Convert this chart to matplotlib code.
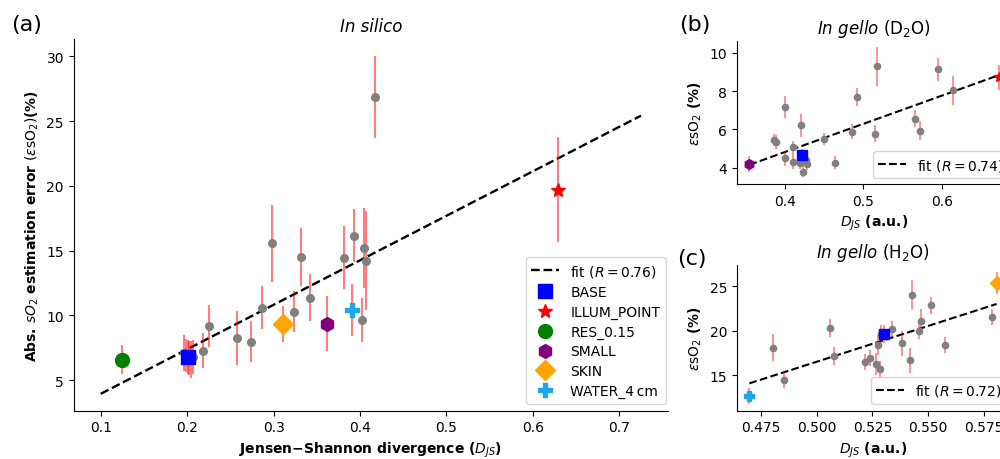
import matplotlib
matplotlib.use("Agg")
import matplotlib.pyplot as plt

# ---------------- (a) In silico ----------------
sil_x = [0.196, 0.199, 0.202, 0.205, 0.207, 0.2183, 0.2249, 0.2572, 0.2734, 0.2861,
         0.2985, 0.3239, 0.3312, 0.3416, 0.3813, 0.3929, 0.4028, 0.4040, 0.4071, 0.4175]
sil_y = [7.1, 6.9, 6.7, 6.6, 6.8, 7.28, 9.17, 8.26, 7.98, 10.6,
         15.57, 10.29, 14.51, 11.37, 14.44, 16.16, 9.68, 15.21, 14.23, 26.88]
sil_err = [1.4, 1.3, 1.3, 1.4, 1.3, 1.35, 1.63, 2.06, 1.57, 1.65,
           2.97, 1.6, 2.27, 1.8, 2.43, 2.03, 1.7, 3.1, 3.8, 3.15]

sil_sp_names = ["BASE", "ILLUM_POINT", "RES_0.15", "SMALL", "SKIN", "WATER_4\u2009cm"]
sil_sp_x = [0.2009, 0.629, 0.1243, 0.3621, 0.3108, 0.3906]
sil_sp_y = [6.77, 19.71, 6.59, 9.37, 9.34, 10.42]
sil_sp_err = [1.3, 4.05, 1.12, 2.1, 1.4, 2.0]

sil_fit_x = [0.1, 0.725]
sil_fit_y = [3.95, 25.42]
sil_R = 0.76

# ---------------- (b) In gello, D2O ----------------
d2o_x = [0.3865, 0.389, 0.4005, 0.4005, 0.4107, 0.4102, 0.4205, 0.419, 0.423, 0.4264,
         0.4286, 0.4498, 0.4639, 0.486, 0.4925, 0.515, 0.5175, 0.5653, 0.5716, 0.595, 0.6138]
d2o_y = [5.44, 5.35, 7.18, 4.48, 5.07, 4.31, 6.22, 4.26, 3.79, 4.40,
         4.19, 5.49, 4.26, 5.88, 7.70, 5.77, 9.29, 6.57, 5.93, 9.15, 8.04]
d2o_err = [0.3, 0.35, 0.57, 0.4, 0.35, 0.4, 0.6, 0.35, 0.3, 0.35,
           0.3, 0.3, 0.35, 0.4, 0.45, 0.45, 1.0, 0.45, 0.5, 0.6, 0.75]

d2o_sp_names = ["SMALL", "BASE", "ILLUM_POINT"]
d2o_sp_x = [0.355, 0.4213, 0.672]
d2o_sp_y = [4.19, 4.66, 8.72]
d2o_sp_err = [0.4, 0.3, 0.65]

d2o_fit_x = [0.355, 0.672]
d2o_fit_y = [4.15, 8.83]
d2o_R = 0.74

# ---------------- (c) In gello, H2O ----------------
h2o_x = [0.4807, 0.4852, 0.5062, 0.508, 0.5219, 0.5241, 0.5267, 0.5283, 0.5274, 0.529,
         0.5336, 0.5384, 0.5418, 0.5429, 0.5457, 0.5466, 0.5513, 0.5576, 0.5785]
h2o_y = [18.07, 14.42, 20.27, 17.17, 16.42, 16.94, 16.23, 15.74, 18.38, 19.63,
         20.16, 18.6, 16.68, 24.04, 20.0, 21.1, 22.83, 18.38, 21.58]
h2o_err = [1.5, 0.9, 1.0, 1.0, 0.9, 0.9, 1.2, 0.9, 1.1, 1.0,
           0.9, 1.4, 1.4, 1.6, 0.9, 1.3, 1.0, 0.9, 0.9]

h2o_sp_names = ["WATER_4\u2009cm", "BASE", "SKIN"]
h2o_sp_x = [0.4699, 0.5301, 0.5807]
h2o_sp_y = [12.64, 19.63, 25.4]
h2o_sp_err = [0.9, 1.0, 1.25]

h2o_fit_x = [0.4699, 0.5807]
h2o_fit_y = [14.07, 23.0]
h2o_R = 0.72

# marker style for each named configuration
STYLE = {
    "BASE": dict(marker="s", color="blue"),
    "ILLUM_POINT": dict(marker="*", color="red"),
    "RES_0.15": dict(marker="o", color="green"),
    "SMALL": dict(marker="h", color="purple"),
    "SKIN": dict(marker="D", color="orange"),
    "WATER_4\u2009cm": dict(marker="P", color="#1aa7ec"),
}

plt.rcParams["font.family"] = ["DejaVu Sans"]
plt.rcParams["font.size"] = 10


def draw_panel(ax, gx, gy, gerr, names, sx, sy, serr, fx, fy, r,
               gray_ms, sp_ms, elw, fit_lw):
    ax.plot(fx, fy, ls="--", color="black", lw=fit_lw, label=f"fit ($R = {r:.2f}$)")
    ax.errorbar(gx, gy, yerr=gerr, fmt="o", color="gray", ms=gray_ms,
                ecolor=(1, 0, 0, 0.5), elinewidth=elw, capsize=0)
    for name, x, y, e in zip(names, sx, sy, serr):
        ax.errorbar([x], [y], yerr=[e], fmt="none", ecolor=(1, 0, 0, 0.5),
                    elinewidth=elw, capsize=0)
        st = STYLE[name]
        ax.plot([x], [y], ls="none", marker=st["marker"], color=st["color"],
                ms=sp_ms, label=name, zorder=3)
    for s in ("top", "right"):
        ax.spines[s].set_visible(False)
    ax.tick_params(labelsize=10)


fig = plt.figure(figsize=(10, 4.6), dpi=100)

ax_a = fig.add_axes([0.0737, 0.105, 0.5943, 0.808])
draw_panel(ax_a, sil_x, sil_y, sil_err, sil_sp_names, sil_sp_x, sil_sp_y, sil_sp_err,
           sil_fit_x, sil_fit_y, sil_R, gray_ms=5.5, sp_ms=10, elw=1.5, fit_lw=1.7)
ax_a.set_xticks([0.1, 0.2, 0.3, 0.4, 0.5, 0.6, 0.7])
ax_a.set_xticklabels(["0.1", "0.2", "0.3", "0.4", "0.5", "0.6", "0.7"])
ax_a.set_yticks([5, 10, 15, 20, 25, 30])
ax_a.set_title("In silico", style="italic", fontsize=12)
ax_a.set_xlabel("Jensen\u2212Shannon divergence ($D_{JS}$)", fontweight="bold")
ax_a.set_ylabel("Abs. $sO_2$ estimation error $(\\varepsilon \\mathrm{sO}_2)$(%)",
                fontweight="bold")
ax_a.legend(loc="lower right", fontsize=10, labelspacing=0.42,
            bbox_to_anchor=(1.008, 0.0))

ax_b = fig.add_axes([0.737, 0.598, 0.274, 0.311])
draw_panel(ax_b, d2o_x, d2o_y, d2o_err, d2o_sp_names, d2o_sp_x, d2o_sp_y, d2o_sp_err,
           d2o_fit_x, d2o_fit_y, d2o_R, gray_ms=4.5, sp_ms=7, elw=1.2, fit_lw=1.5)
ax_b.set_xticks([0.4, 0.5, 0.6])
ax_b.set_yticks([4, 6, 8, 10])
ax_b.set_title("$\\mathit{In\\ gello}$ (D$_2$O)", fontsize=12)
ax_b.set_xlabel("$D_{JS}$ (a.u.)", fontweight="bold")
ax_b.set_ylabel("$\\varepsilon \\mathrm{sO}_2$ (%)", fontweight="bold")
handles, labels = ax_b.get_legend_handles_labels()
ax_b.legend(handles[:1], labels[:1], loc="lower right", fontsize=10,
            bbox_to_anchor=(1.02, -0.01))

ax_c = fig.add_axes([0.737, 0.105, 0.272, 0.317])
draw_panel(ax_c, h2o_x, h2o_y, h2o_err, h2o_sp_names, h2o_sp_x, h2o_sp_y, h2o_sp_err,
           h2o_fit_x, h2o_fit_y, h2o_R, gray_ms=4.5, sp_ms=7, elw=1.2, fit_lw=1.5)
ax_c.set_xticks([0.475, 0.500, 0.525, 0.550, 0.575])
ax_c.set_yticks([15, 20, 25])
ax_c.set_title("$\\mathit{In\\ gello}$ (H$_2$O)", fontsize=12)
ax_c.set_xlabel("$D_{JS}$ (a.u.)", fontweight="bold")
ax_c.set_ylabel("$\\varepsilon \\mathrm{sO}_2$ (%)", fontweight="bold")
handles, labels = ax_c.get_legend_handles_labels()
ax_c.legend(handles[:1], labels[:1], loc="lower right", fontsize=10,
            bbox_to_anchor=(1.02, 0.0))

fig.text(0.011, 0.968, "(a)", fontsize=16, va="top", ha="left")
fig.text(0.679, 0.968, "(b)", fontsize=16, va="top", ha="left")
fig.text(0.677, 0.459, "(c)", fontsize=16, va="top", ha="left")

fig.savefig("out.png", dpi=100)
